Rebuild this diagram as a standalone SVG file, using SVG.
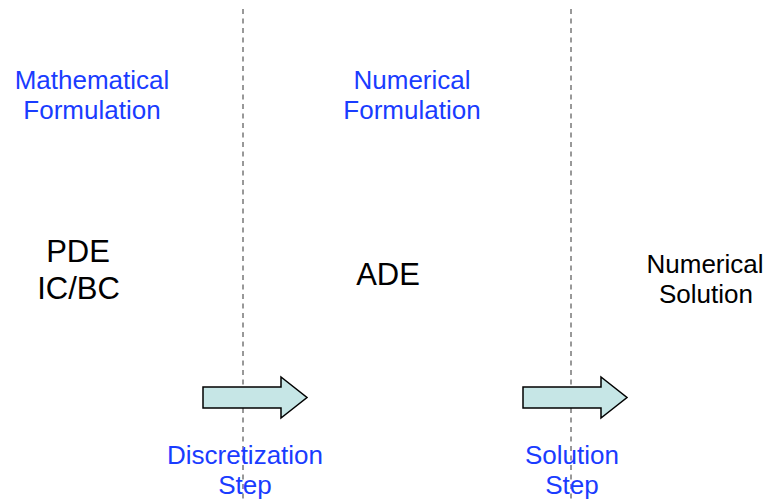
<svg xmlns="http://www.w3.org/2000/svg" width="769" height="502" viewBox="0 0 769 502">
  <style>
    text { font-family: "Liberation Sans", Arial, sans-serif; text-anchor: middle; }
    .label { fill: #1a3cff; font-size: 26px; }
    .term { fill: #000; font-size: 31px; }
    .result { fill: #000; font-size: 26px; }
    .divider { stroke: #333; stroke-width: 1; stroke-dasharray: 5 4.5; fill: none; }
    .step-arrow { fill: #c6e6e6; stroke: #000; stroke-width: 1.5; stroke-linejoin: miter; }
  </style>
  <rect width="769" height="502" fill="#fff"/>

  <!-- stage dividers -->
  <g id="dividers">
    <line class="divider" x1="243" y1="9" x2="243" y2="502"/>
    <line class="divider" x1="571" y1="9" x2="571" y2="502"/>
  </g>

  <!-- stage headings -->
  <g id="heading-math">
    <text class="label" x="92" y="89">Mathematical</text>
    <text class="label" x="92" y="119">Formulation</text>
  </g>
  <g id="heading-numerical">
    <text class="label" x="412" y="89">Numerical</text>
    <text class="label" x="412" y="119">Formulation</text>
  </g>

  <!-- stage contents -->
  <g id="node-pde">
    <text class="term" x="78" y="262">PDE</text>
    <text class="term" x="78.5" y="299">IC/BC</text>
  </g>
  <g id="node-ade">
    <text class="term" x="388" y="285">ADE</text>
  </g>
  <g id="node-solution">
    <text class="result" x="705" y="273">Numerical</text>
    <text class="result" x="706" y="303">Solution</text>
  </g>

  <!-- transition arrows -->
  <g id="connectors">
    <path class="step-arrow" d="M203,387 H281 V377 L307,397.5 L281,418 V408 H203 Z"/>
    <path class="step-arrow" d="M523,387 H601 V377 L627,397.5 L601,418 V408 H523 Z"/>
  </g>

  <!-- transition labels -->
  <g id="label-discretization">
    <text class="label" x="245" y="464">Discretization</text>
    <text class="label" x="245" y="494">Step</text>
  </g>
  <g id="label-solution">
    <text class="label" x="572" y="464">Solution</text>
    <text class="label" x="572" y="494">Step</text>
  </g>
</svg>
